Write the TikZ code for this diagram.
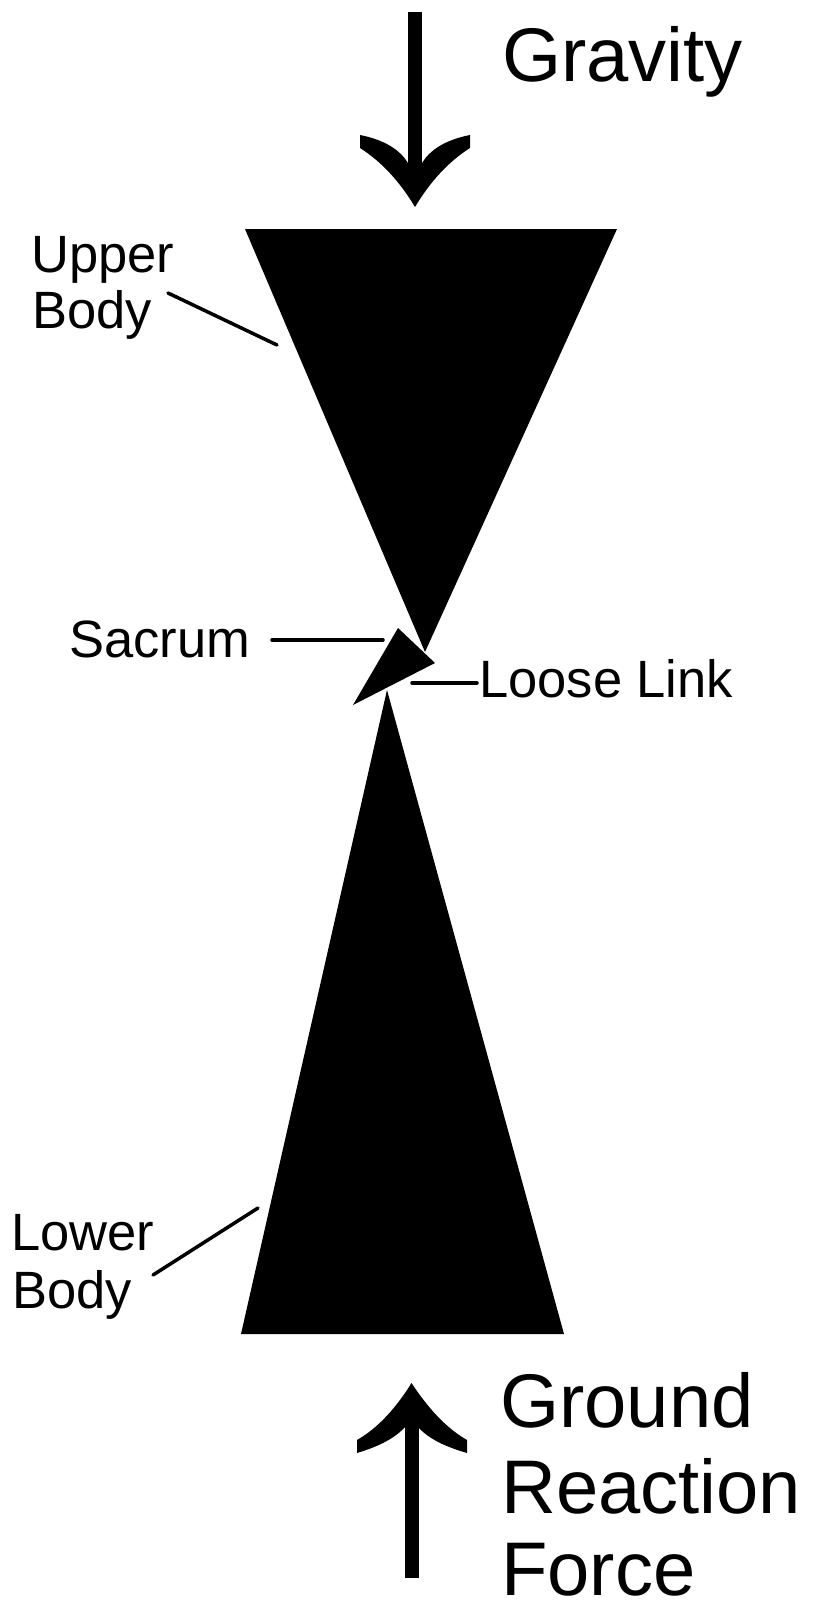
\documentclass[tikz,border=0pt]{standalone}
\usepackage{fontspec}
\setmainfont{Liberation Sans}
\begin{document}
\begin{tikzpicture}[x=1pt,y=-1pt,
  bigtext/.style={anchor=base west,inner sep=0pt,font=\fontsize{76}{85}\selectfont},
  smalltext/.style={anchor=base west,inner sep=0pt,font=\fontsize{52.5}{56}\selectfont},
  leader/.style={line width=3.5pt,line cap=round},
  body/.style={fill=black,draw=none},
  shaft/.style={line width=14pt}]
\useasboundingbox (0,0) rectangle (820,1608);
% body segments
\fill[body] (245,229) coordinate (ubL) -- (617,229) coordinate (ubR) -- (425,652) coordinate (ubA) -- cycle;
\fill[body] (398,628) coordinate (sT) -- (435,663) coordinate (sR) -- (353,705) coordinate (sB) -- cycle;
\fill[body] (387,690) coordinate (lbA) -- (564,1334) coordinate (lbR) -- (241,1334) coordinate (lbL) -- cycle;
% gravity arrow
\coordinate (gTop) at (415,12);
\coordinate (gNotch) at (415,165);
\draw[shaft] (gTop) -- (gNotch);
\fill (415,207) coordinate (gTip) .. controls (400,182) and (382,162) .. (360,148) -- (360,135)
  .. controls (385,140) and (400,150) .. (408,163) -- (422,163)
  .. controls (430,150) and (445,140) .. (470,135) -- (470,148)
  .. controls (448,162) and (430,182) .. (gTip) -- cycle;
% ground reaction arrow
\coordinate (rBot) at (411.5,1578);
\coordinate (rNotch) at (411.5,1425);
\draw[shaft] (rBot) -- (rNotch);
\fill (411.5,1383) coordinate (rTip) .. controls (396,1408) and (378,1428) .. (357,1440) -- (357,1453)
  .. controls (380,1446) and (395,1438) .. (405,1427) -- (418,1427)
  .. controls (428,1438) and (443,1446) .. (467,1453) -- (467,1440)
  .. controls (446,1428) and (428,1408) .. (rTip) -- cycle;
% labels
\node[bigtext] (grav) at (502,82) {Gravity};
\node[bigtext] (gr1) at (500,1427) {Ground};
\node[bigtext] (gr2) at (501,1513) {Reaction};
\node[bigtext,text depth=0pt] (gr3) at (501,1595) {Force};
\node[smalltext] (ub1) at (31,272) {Upper};
\node[smalltext] (ub2) at (32,328) {Body};
\node[smalltext] (sac) at (69,657) {Sacrum};
\node[smalltext] (ll) at (479,697) {Loose Link};
\node[smalltext] (lb1) at (11,1250) {Lower};
\node[smalltext] (lb2) at (12,1308) {Body};
% leader lines
\coordinate (ubS) at (168,293); \coordinate (ubE) at (277,345);
\draw[leader] (ubS) -- (ubE);
\coordinate (sacS) at (272,640); \coordinate (sacE) at (383,640);
\draw[leader] (sacS) -- (sacE);
\coordinate (llS) at (412,683); \coordinate (llE) at (477,683);
\draw[leader] (llS) -- (llE);
\coordinate (lbS) at (153,1275); \coordinate (lbE) at (258,1208);
\draw[leader] (lbS) -- (lbE);
\end{tikzpicture}
\end{document}
